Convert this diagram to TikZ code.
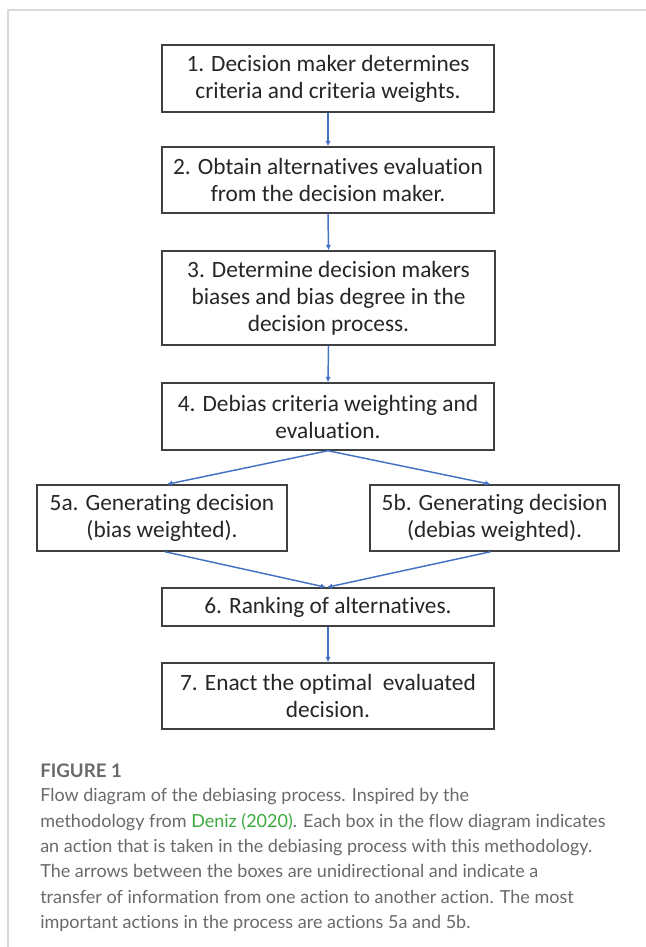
\documentclass[tikz,border=0pt]{standalone}
\usepackage{fontspec}
\setmainfont{Carlito}[Ligatures=NoCommon]
\newfontfamily\capfont{Lato}[Ligatures=NoCommon]
\usetikzlibrary{arrows.meta,calc}
\definecolor{arrowblue}{HTML}{4472C4}
\definecolor{boxline}{HTML}{404040}
\definecolor{frameline}{HTML}{D9D9D9}
\definecolor{captext}{HTML}{6A6A6A}
\definecolor{capgreen}{HTML}{3DAA3D}
\tikzset{
  stepbox/.style={draw=boxline, line width=1.1pt, rectangle, align=center, inner sep=0pt,
    font=\fontsize{17.5}{20.25}\selectfont, text=black!85},
  flowarrow/.style={draw=arrowblue, line width=1.1pt, -{Latex[length=4pt,width=4pt]}},
}
\begin{document}
\begin{tikzpicture}[x=0.75pt,y=-0.75pt]
\useasboundingbox (0,0) rectangle (646,947);
\fill[white] (0,0) rectangle (646,947);
\draw[frameline, line width=1.2pt] (646,10) -- (8,10) -- (8,947);

\node[stepbox, minimum width=332*0.75pt, minimum height=67*0.75pt] (b1) at (328,78.5) {1. Decision maker determines\\criteria and criteria weights.};
\node[stepbox, minimum width=332*0.75pt, minimum height=66*0.75pt] (b2) at (328,180) {2. Obtain alternatives evaluation\\from the decision maker.};
\node[stepbox, minimum width=333*0.75pt, minimum height=94*0.75pt] (b3) at (328.5,298) {3. Determine decision makers\\biases and bias degree in the\\decision process.};
\node[stepbox, minimum width=332*0.75pt, minimum height=67*0.75pt] (b4) at (328,416.5) {4. Debias criteria weighting and\\evaluation.};
\node[stepbox, minimum width=250*0.75pt, minimum height=66*0.75pt] (b5a) at (162,518) {5a. Generating decision\\(bias weighted).};
\node[stepbox, minimum width=249*0.75pt, minimum height=66*0.75pt] (b5b) at (494.5,518) {5b. Generating decision\\(debias weighted).};
\node[stepbox, minimum width=332*0.75pt, minimum height=38*0.75pt] (b6) at (328,607) {6. Ranking of alternatives.};
\node[stepbox, minimum width=332*0.75pt, minimum height=66*0.75pt] (b7) at (328,696) {7. Enact the optimal\ \ evaluated\\decision.};

\draw[flowarrow] (b1.south) -- (b2.north);
\draw[flowarrow] (b2.south) -- (b3.north);
\draw[flowarrow] (b3.south) -- (b4.north);
\draw[flowarrow] (b4.south) -- ($(b5a.north)+(5,0)$);
\draw[flowarrow] (b4.south) -- ($(b5b.north)+(-4,0)$);
\draw[flowarrow] ($(b5a.south)+(3,0)$) -- ($(b6.north)+(-2,0)$);
\draw[flowarrow] ($(b5b.south)+(-4,0)$) -- ($(b6.north)+(-1,0)$);
\draw[flowarrow] (b6.south) -- (b7.north);

\node[anchor=base west, inner sep=0pt, font=\capfont\bfseries\fontsize{14}{16}\selectfont, text=captext] (figlabel) at (40,777) {FIGURE 1};
\node[anchor=north west, inner sep=0pt, align=left, font=\capfont\fontsize{13.5}{19.1}\selectfont, text=captext] (caption) at (40,788)
{Flow diagram of the debiasing process. Inspired by the\\
methodology from \textcolor{capgreen}{Deniz (2020)}. Each box in the flow diagram indicates\\
an action that is taken in the debiasing process with this methodology.\\
The arrows between the boxes are unidirectional and indicate a\\
transfer of information from one action to another action. The most\\
important actions in the process are actions 5a and 5b.};
\end{tikzpicture}
\end{document}
